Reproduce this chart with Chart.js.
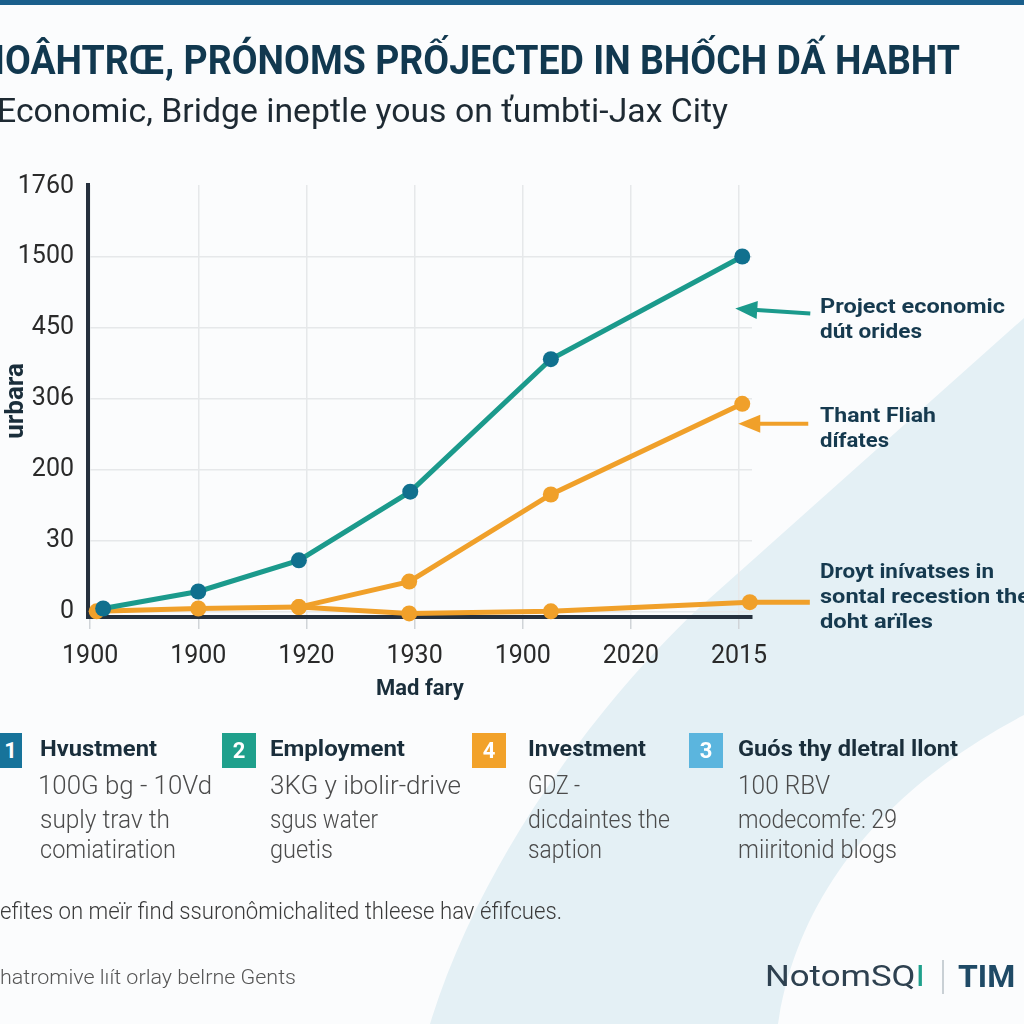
<!DOCTYPE html>
<html>
<head>
<meta charset="utf-8">
<script src="https://cdn.jsdelivr.net/npm/chart.js@4.4.1/dist/chart.umd.min.js"></script>
<style>
  html, body { margin: 0; padding: 0; }
  body { width: 1024px; height: 1024px; position: relative; overflow: hidden; background: #fbfcfd; font-family: Roboto, "Noto Sans", sans-serif; }
  #bg { position: absolute; left: 0; top: 0; z-index: 0; }
  #topbar { position: absolute; left: 0; top: 0; width: 1024px; height: 5px; background: #1a5f8c; z-index: 3; }
  #chart-wrap { position: absolute; left: 0; top: 0; width: 1024px; height: 1024px; z-index: 1; }
  .t { position: absolute; white-space: nowrap; line-height: 1; transform-origin: left center; z-index: 2; }
  .title { font-weight: 700; font-size: 41px; color: #11384f; }
  .sub { font-size: 33px; color: #1e2a33; }
  .note { font-weight: 700; font-size: 21px; color: #163a4f; }
  .lt { font-weight: 700; font-size: 22px; color: #1a2e3b; }
  .lb { font-size: 25px; color: #4b4b4b; font-weight: 300; }
  .badge { position: absolute; width: 34px; height: 35px; top: 733px; color: #fff; font-weight: 700; font-size: 22px; line-height: 35px; text-align: center; z-index: 2; }
  .foot { font-size: 23px; color: #3a3a3a; font-weight: 300; }
</style>
</head>
<body>
<svg id="bg" width="1024" height="1024">
  <path d="M1024,318 L700,607 C600,700 480,860 430,1024 L778,1024 C800,880 900,780 1024,715 Z" fill="#e4f0f5"/>
</svg>
<div id="topbar"></div>
<div id="chart-wrap"><canvas id="lineChart" width="1024" height="1024"></canvas></div>

<div class="t title" style="left:-6px; top:40px;" data-w="966">IOÂHTRŒ, PRÓNOMS PRỐJECTED IN BHỐCH DẤ HABHT</div>
<div class="t sub" style="left:-3px; top:94px;" data-w="731">Economic, Bridge ineptle yous on ťumbti-Jax City</div>

<!-- annotations on the right -->
<div class="t note" style="left:820px; top:296px;" data-w="185">Project economic</div>
<div class="t note" style="left:820px; top:321px;" data-w="102">dút orides</div>
<div class="t note" style="left:820px; top:405px;" data-w="116">Thant Fliah</div>
<div class="t note" style="left:820px; top:430px;" data-w="69">dífates</div>
<div class="t note" style="left:820px; top:561px;" data-w="174">Droyt inívatses in</div>
<div class="t note" style="left:820px; top:586px;" data-w="210">sontal recestion the</div>
<div class="t note" style="left:820px; top:611px;" data-w="113">doht arïles</div>

<!-- legend cards -->
<div class="badge" style="left:-12px; background:#17739a;">&nbsp;&nbsp;1</div>
<div class="badge" style="left:222px; background:#1fa08c;">2</div>
<div class="badge" style="left:472px; background:#f2a22a;">4</div>
<div class="badge" style="left:689px; background:#5bb5de;">3</div>

<div class="t lt" style="left:40px; top:738px;" data-w="117">Hvustment</div>
<div class="t lt" style="left:270px; top:738px;" data-w="135">Employment</div>
<div class="t lt" style="left:528px; top:738px;" data-w="118">Investment</div>
<div class="t lt" style="left:738px; top:738px;" data-w="220">Guós thy dletral llont</div>

<div class="t lb" style="left:38px; top:773px;" data-w="174">100G bg - 10Vd</div>
<div class="t lb" style="left:40px; top:807px;" data-w="130">suply trav th</div>
<div class="t lb" style="left:40px; top:837px;" data-w="136">comiatiration</div>

<div class="t lb" style="left:270px; top:773px;" data-w="191">3KG y ibolir-drive</div>
<div class="t lb" style="left:270px; top:807px;" data-w="108">sgus water</div>
<div class="t lb" style="left:270px; top:837px;" data-w="63">guetis</div>

<div class="t lb" style="left:528px; top:773px;" data-w="52">GDZ -</div>
<div class="t lb" style="left:528px; top:807px;" data-w="142">dicdaintes the</div>
<div class="t lb" style="left:528px; top:837px;" data-w="74">saption</div>

<div class="t lb" style="left:738px; top:773px;" data-w="92">100 RBV</div>
<div class="t lb" style="left:738px; top:807px;" data-w="159">modecomfe: 29</div>
<div class="t lb" style="left:738px; top:837px;" data-w="159">miiritonid blogs</div>

<!-- footer -->
<div class="t foot" style="left:0px; top:900px;" data-w="562">efites on meïr find ssuronômichalited thleese hav éfifcues.</div>
<div class="t foot" style="left:0px; top:967px; font-size:21px; color:#555;" data-w="296">hatromive lıít orlay belrne Gents</div>
<div class="t" style="left:765px; top:961px; font-size:30px; color:#2e4150;" data-w="160">NotomSQ<span style="color:#1fa08c;">I</span></div>
<div style="position:absolute; left:942px; top:960px; width:2px; height:34px; background:#c9d0d5; z-index:2;"></div>
<div class="t" style="left:958px; top:960px; font-size:32px; font-weight:700; color:#1f4a66;">TIM</div>

<script>
// squeeze text to the width it has in the picture
document.querySelectorAll('[data-w]').forEach(el => {
    const w = el.getBoundingClientRect().width;
    el.style.transform = 'scaleX(' + (parseFloat(el.dataset.w) / w) + ')';
});

/* Chart data */
const xLabels = ["1900", "1900", "1920", "1930", "1900", "2020", "2015"];
const yLabels = ["0", "30", "200", "306", "450", "1500", "1760"];

// positions on the axis grid (x in category steps, y in tick steps)
const economicX = [0.12, 1.0, 1.93, 2.96, 4.26, 6.03];
const economicY = [0.04, 0.28, 0.72, 1.69, 3.56, 5.01];

const upperX = [0.06, 1.0, 1.93, 2.95, 4.26, 6.03];
const upperY = [0.0, 0.04, 0.06, 0.42, 1.65, 2.93];

const lowerX = [1.93, 2.95, 4.26, 6.1];
const lowerY = [0.06, -0.03, 0.0, 0.13];

const teal = '#1b9a8c';
const tealDot = '#10708e';
const orange = '#f0a02a';
const navy = '#25303d';
const gridColor = '#e6e8ea';

function toPoints(xs, ys) {
    return xs.map((x, i) => ({ x: x, y: ys[i] }));
}

// arrows pointing from the notes to the last points
const arrowPlugin = {
    id: 'arrows',
    afterDatasetsDraw(chart) {
        const ctx = chart.ctx;
        const lastOf = (i) => {
            const pts = chart.getDatasetMeta(i).data;
            return pts[pts.length - 1];
        };
        function arrow(x1, y1, x2, y2, color) {
            const ang = Math.atan2(y2 - y1, x2 - x1);
            ctx.save();
            ctx.strokeStyle = color;
            ctx.fillStyle = color;
            ctx.lineWidth = 4;
            ctx.beginPath();
            ctx.moveTo(x1, y1);
            ctx.lineTo(x2 - 14 * Math.cos(ang), y2 - 14 * Math.sin(ang));
            ctx.stroke();
            ctx.beginPath();
            ctx.moveTo(x2, y2);
            ctx.lineTo(x2 - 22 * Math.cos(ang) + 9 * Math.sin(ang), y2 - 22 * Math.sin(ang) - 9 * Math.cos(ang));
            ctx.lineTo(x2 - 22 * Math.cos(ang) - 9 * Math.sin(ang), y2 - 22 * Math.sin(ang) + 9 * Math.cos(ang));
            ctx.closePath();
            ctx.fill();
            ctx.restore();
        }
        const a = lastOf(0);
        arrow(a.x + 68, a.y + 57, a.x - 7, a.y + 52, teal);
        const b = lastOf(1);
        arrow(b.x + 66, b.y + 20, b.x - 4, b.y + 20, orange);
        const c = lastOf(2);
        ctx.save();
        ctx.strokeStyle = orange;
        ctx.lineWidth = 5;
        ctx.beginPath();
        ctx.moveTo(c.x, c.y);
        ctx.lineTo(c.x + 60, c.y);
        ctx.stroke();
        ctx.restore();
    }
};

const ctx = document.getElementById('lineChart').getContext('2d');

new Chart(ctx, {
    type: 'line',
    data: {
        datasets: [{
            label: 'Project economic',
            data: toPoints(economicX, economicY),
            borderColor: teal,
            backgroundColor: tealDot,
            pointBackgroundColor: tealDot,
            pointBorderWidth: 0,
            pointRadius: 8,
            borderWidth: 5,
            tension: 0
        }, {
            label: 'Thant Fliah',
            data: toPoints(upperX, upperY),
            borderColor: orange,
            backgroundColor: orange,
            pointBackgroundColor: orange,
            pointBorderWidth: 0,
            pointRadius: 8,
            borderWidth: 5,
            tension: 0
        }, {
            label: 'Droyt inívatses',
            data: toPoints(lowerX, lowerY),
            borderColor: orange,
            backgroundColor: orange,
            pointBackgroundColor: orange,
            pointBorderWidth: 0,
            pointRadius: 8,
            borderWidth: 5,
            tension: 0
        }]
    },
    options: {
        responsive: false,
        animation: false,
        clip: false,
        layout: { padding: { left: 0, top: 185, right: 272, bottom: 321 } },
        plugins: {
            legend: { display: false },
            tooltip: { enabled: false }
        },
        scales: {
            x: {
                type: 'linear',
                min: -0.02,
                max: 6.12,
                afterFit: (s) => { s.height = 86; },
                border: { color: navy, width: 4 },
                grid: { color: gridColor, lineWidth: 1.5, tickLength: 12, tickColor: '#d0d4d8' },
                ticks: {
                    stepSize: 1,
                    includeBounds: false,
                    padding: 13,
                    color: '#2a2a2a',
                    font: { family: 'Roboto', size: 25 },
                    maxRotation: 0,
                    callback: (v) => Number.isInteger(v) ? xLabels[v] : ''
                },
                title: {
                    display: true,
                    text: 'Mad fary',
                    color: '#1a2e3b',
                    font: { family: 'Roboto', size: 22, weight: 'bold' },
                    padding: { top: 4, bottom: 0 }
                }
            },
            y: {
                type: 'linear',
                min: -0.08,
                max: 6.02,
                afterFit: (s) => { s.width = 88; },
                border: { color: navy, width: 4 },
                grid: {
                    color: (c) => (c.tick && c.tick.value === 6) ? 'rgba(0,0,0,0)' : gridColor,
                    lineWidth: 1.5,
                    drawTicks: false
                },
                ticks: {
                    stepSize: 1,
                    includeBounds: false,
                    padding: 14,
                    color: '#2a2a2a',
                    font: { family: 'Roboto', size: 25 },
                    callback: (v) => Number.isInteger(v) ? yLabels[v] : ''
                },
                title: {
                    display: true,
                    text: 'urbara',
                    color: '#1a2e3b',
                    font: { family: 'Roboto', size: 26, weight: 'bold' },
                    padding: 1
                }
            }
        }
    },
    plugins: [arrowPlugin]
});
</script>
</body>
</html>
